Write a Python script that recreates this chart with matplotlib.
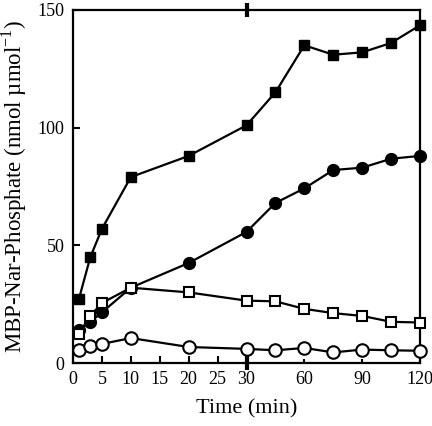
import matplotlib
matplotlib.use("Agg")
import matplotlib.pyplot as plt
import matplotlib.transforms as mtransforms
import numpy as np

plt.rcParams['font.family'] = ['Liberation Serif', 'DejaVu Serif']
plt.rcParams['mathtext.fontset'] = 'custom'
plt.rcParams['mathtext.rm'] = 'Liberation Serif'

time = [1, 3, 5, 10, 20, 30, 45, 60, 75, 90, 105, 120]
filled_sq = [27, 45, 57, 79, 88, 101, 115, 135, 131, 132, 136, 143.5]
filled_ci = [14, 17.5, 21.5, 32, 42.5, 55.7, 68, 74.2, 82, 83, 86.8, 88]
open_sq = [12.5, 20, 25.5, 32, 30, 26.5, 26.2, 23, 21.2, 20, 17.5, 17.2]
open_ci = [5.7, 7.4, 8.1, 10.6, 6.8, 6.0, 5.4, 6.4, 4.5, 5.7, 5.4, 5.2]

xticks = [0, 5, 10, 15, 20, 25, 30, 60, 90, 120]
yticks = [0, 50, 100, 150]

def fwd(x):
    x = np.asarray(x, dtype=float)
    return np.where(x <= 30, x, 30 + (x - 30) / 3.0)

def inv(y):
    y = np.asarray(y, dtype=float)
    return np.where(y <= 30, y, 30 + (y - 30) * 3.0)

fig = plt.figure(figsize=(4.32, 4.26), dpi=100)
ax = fig.add_axes([73/432, 1 - 363/426, (420 - 73)/432, (363 - 10)/426])
ax.set_xscale('function', functions=(fwd, inv))

lw = 1.6
ax.plot(time, filled_sq, '-s', color='black', lw=lw, ms=7, mfc='black', mec='black', clip_on=False, zorder=3)
ax.plot(time, filled_ci, '-o', color='black', lw=lw, ms=8.5, mfc='black', mec='black', clip_on=False, zorder=3)
ax.plot(time, open_sq, '-s', color='black', lw=lw, ms=7, mfc='white', mec='black', mew=1.5, clip_on=False, zorder=4)
ax.plot(time, open_ci, '-o', color='black', lw=lw, ms=9, mfc='white', mec='black', mew=1.5, clip_on=False, zorder=4)

ax.set_xlim(0, 120)
ax.set_ylim(0, 150)
ax.set_xticks(xticks)
ax.set_xticklabels([str(t) for t in xticks])
ax.set_yticks(yticks)
ax.minorticks_off()
ax.tick_params(direction='in', length=5, width=1.5, labelsize=13, pad=6)
for t, tk in zip(xticks, ax.xaxis.get_major_ticks()):
    if t > 30:
        tk.tick1line.set_markersize(3)
for s in ax.spines.values():
    s.set_linewidth(1.6)

# axis break marks at 30 min
trans = mtransforms.blended_transform_factory(ax.transData, ax.transAxes)
ax.plot([30, 30], [-0.02, 0.02], color='black', lw=3, transform=trans, clip_on=False, solid_capstyle='butt')
ax.plot([30, 30], [0.98, 1.02], color='black', lw=3, transform=trans, clip_on=False, solid_capstyle='butt')

ax.set_xlabel('Time (min)', fontsize=16, labelpad=8)
ax.set_ylabel(r'MBP-Nar-Phosphate (nmol µmol$^{-1}$)', fontsize=16.5, labelpad=6)

fig.savefig('out.png', dpi=100)
